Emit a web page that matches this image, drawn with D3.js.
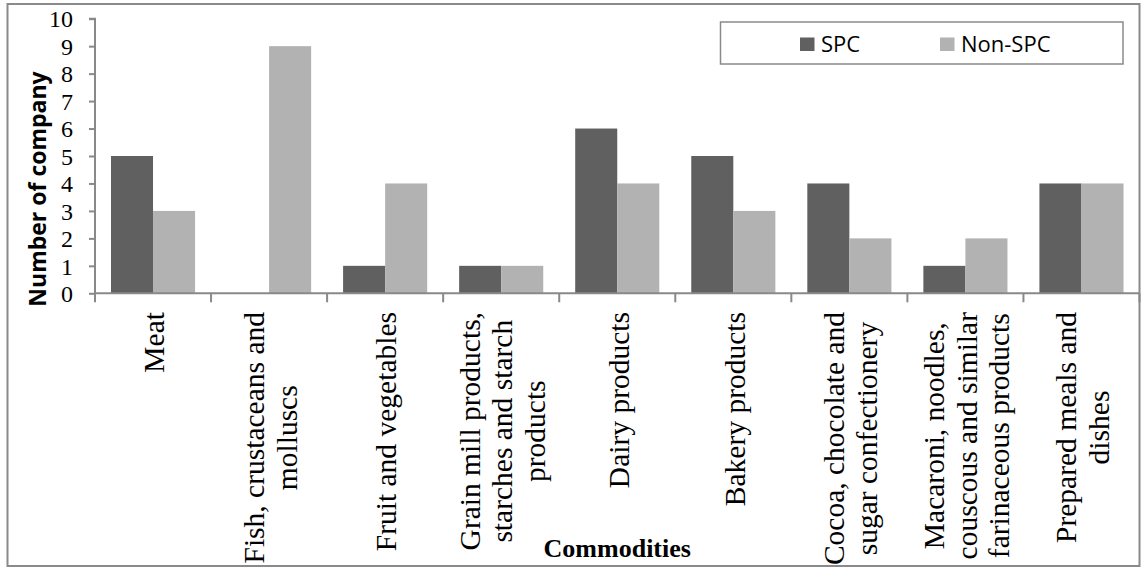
<!DOCTYPE html>
<html>
<head>
<meta charset="utf-8">
<script src="https://cdn.jsdelivr.net/npm/d3@7"></script>
<style>
  html, body { margin: 0; padding: 0; background: #fff; }
  svg { display: block; }
  .yaxis text { font-family: 'Liberation Serif', 'Times New Roman', serif; font-size: 24px; }
</style>
</head>
<body>
<svg id="chart" width="1142" height="568"></svg>
<script>
// Commodity groups (label lines) and company counts
const categories = [
  ["Meat"],
  ["Fish, crustaceans and", "molluscs"],
  ["Fruit and vegetables"],
  ["Grain mill products,", "starches and starch", "products"],
  ["Dairy products"],
  ["Bakery products"],
  ["Cocoa, chocolate and", "sugar confectionery"],
  ["Macaroni, noodles,", "couscous and similar", "farinaceous products"],
  ["Prepared meals and", "dishes"]
];
const seriesNames = ["SPC", "Non-SPC"];
const spcValues = [5, 0, 1, 1, 6, 5, 4, 1, 4];
const nonSpcValues = [3, 9, 4, 1, 4, 3, 2, 2, 4];
const yTicks = [0, 1, 2, 3, 4, 5, 6, 7, 8, 9, 10];
const colors = ["#606060", "#b2b2b2"];

const svg = d3.select("#chart");
const serif = "'Liberation Serif', 'Times New Roman', serif";
const sans = "'Open Sans', 'Liberation Sans', sans-serif";
const axisColor = "#898989";

const plot = { left: 95, right: 1139.5, top: 18.7, bottom: 293.3 };

// Outer frame
svg.append("rect")
  .attr("x", 7.5).attr("y", 4).attr("width", 1132).attr("height", 562)
  .attr("fill", "none").attr("stroke", "#8a8a8a").attr("stroke-width", 2);

const keys = categories.map((c, i) => i);
const x0 = d3.scaleBand().domain(keys).range([plot.left, plot.right]).paddingInner(0).paddingOuter(0);
const x1 = d3.scaleBand().domain([0, 1]).range([0, x0.bandwidth()]).paddingInner(0).paddingOuter(0.38);
const y = d3.scaleLinear().domain([0, 10]).range([plot.bottom, plot.top]);

const rows = keys.map(i => [spcValues[i], nonSpcValues[i]]);

// Bars
const groups = svg.append("g").selectAll("g").data(rows).join("g")
  .attr("transform", (d, i) => `translate(${x0(i)},0)`);
groups.selectAll("rect").data(d => d.map((v, s) => ({ v, s }))).join("rect")
  .attr("x", d => x1(d.s))
  .attr("width", x1.bandwidth())
  .attr("y", d => y(d.v))
  .attr("height", d => y(0) - y(d.v))
  .attr("fill", d => colors[d.s]);

// Y axis
const yAxis = d3.axisLeft(y).tickValues(yTicks).tickSize(6).tickPadding(16).tickFormat(d3.format("d"));
const yg = svg.append("g")
  .attr("class", "yaxis")
  .attr("transform", `translate(${plot.left},0)`)
  .call(yAxis);
yg.attr("font-family", serif).attr("font-size", 24);
yg.select(".domain").attr("stroke", axisColor).attr("stroke-width", 2).attr("d", `M-6,${plot.top}H0V${plot.bottom}`);
yg.selectAll(".tick line").attr("stroke", axisColor).attr("stroke-width", 2);
yg.selectAll("text")
  .attr("font-family", serif).attr("font-size", 24).attr("fill", "#000")
  .attr("dy", "0.34em");

// X axis with ticks on category boundaries
const xBoundaries = d3.range(categories.length + 1).map(i => plot.left + i * x0.step());
const xg = svg.append("g");
xg.append("line")
  .attr("x1", plot.left).attr("x2", plot.right).attr("y1", plot.bottom).attr("y2", plot.bottom)
  .attr("stroke", axisColor).attr("stroke-width", 2);
xg.selectAll("line.tk").data(xBoundaries).join("line").attr("class", "tk")
  .attr("x1", d => d).attr("x2", d => d)
  .attr("y1", plot.bottom).attr("y2", plot.bottom + 9)
  .attr("stroke", axisColor).attr("stroke-width", 2);

// Rotated multi-line category labels
const labelTop = 312;
const lineGap = 32.5;
const lab = svg.append("g").selectAll("g").data(categories).join("g");
lab.each(function (lines, i) {
  const g = d3.select(this);
  const cx = x0(i) + x0.bandwidth() / 2 + 1.5;
  const inner = g.append("g");
  const texts = inner.selectAll("text").data(lines).join("text")
    .style("font-family", serif).style("font-size", "29.5px").attr("fill", "#000")
    .attr("text-anchor", "middle")
    .attr("dy", "0.33em")
    .text(d => d);
  const maxLen = d3.max(texts.nodes(), n => n.getComputedTextLength());
  const n = lines.length;
  texts.attr("x", -maxLen / 2).attr("y", (d, k) => (k - (n - 1) / 2) * lineGap);
  inner.attr("transform", `translate(${cx},${labelTop}) rotate(-90)`);
});

// Axis titles
svg.append("text")
  .attr("transform", "translate(38,189) rotate(-90)")
  .attr("text-anchor", "middle").attr("dy", "0.35em")
  .style("font-family", sans).style("font-weight", 700).style("font-size", "23px")
  .attr("fill", "#000")
  .text("Number of company");

svg.append("text")
  .attr("x", (plot.left + plot.right) / 2).attr("y", 557)
  .attr("text-anchor", "middle")
  .style("font-family", serif).style("font-weight", 700).style("font-size", "26px")
  .attr("fill", "#000")
  .text("Commodities");

// Legend
const legend = svg.append("g");
legend.append("rect")
  .attr("x", 720.5).attr("y", 22).attr("width", 402.5).attr("height", 42)
  .attr("fill", "#fff").attr("stroke", "#8a8a8a").attr("stroke-width", 1.5);
const legendX = [800, 940];
seriesNames.forEach((name, s) => {
  legend.append("rect")
    .attr("x", legendX[s]).attr("y", 37.5).attr("width", 14.5).attr("height", 13.5)
    .attr("fill", colors[s]);
  legend.append("text")
    .attr("x", legendX[s] + 21).attr("y", 51.5)
    .style("font-family", sans).style("font-size", "22px").attr("fill", "#000")
    .text(name);
});
</script>
</body>
</html>
